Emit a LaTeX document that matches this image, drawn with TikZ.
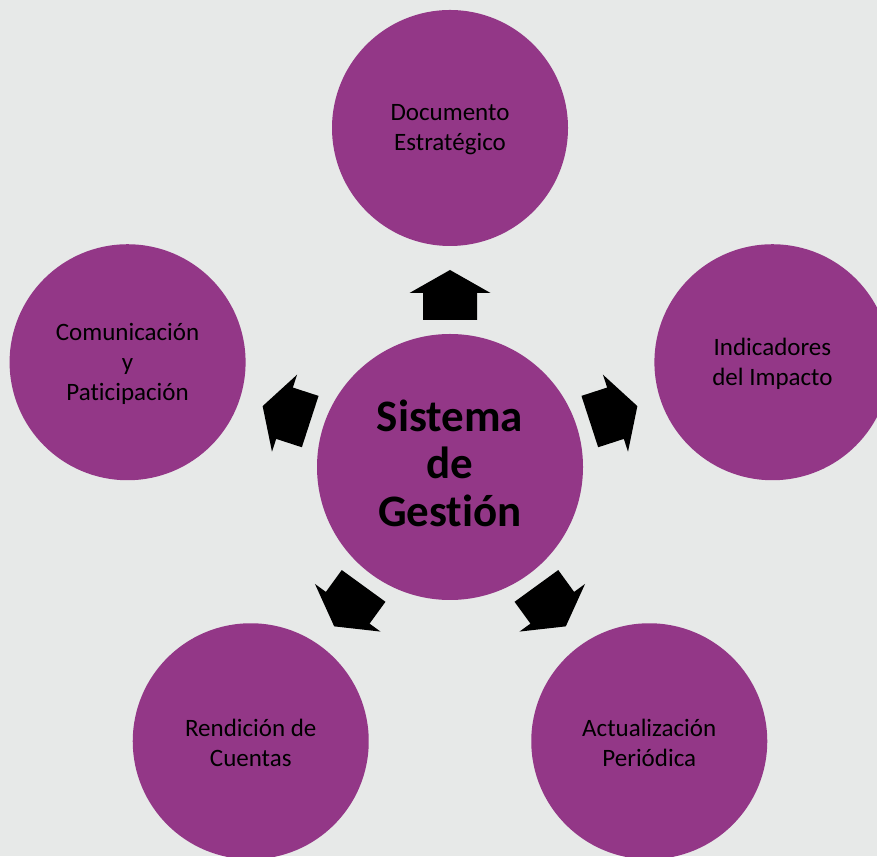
\documentclass[tikz,border=0pt]{standalone}
\usepackage{fontspec}
\setmainfont{Carlito}[Ligatures=NoCommon]
\definecolor{bg}{HTML}{E7E9E8}
\definecolor{plum}{HTML}{933787}
\begin{document}
\begin{tikzpicture}[x=1pt,y=1pt,
  circ/.style={circle,fill=plum,minimum size=236pt,inner sep=0pt},
  circtext/.style={align=center,text=black,inner sep=0pt,font=\fontsize{25}{30}\selectfont},
  hub/.style={circle,fill=plum,minimum size=266pt,inner sep=0pt},
  hubtext/.style={align=center,text=black,inner sep=0pt,font=\fontsize{45}{47.5}\selectfont\bfseries},
  blockarrow/.style={fill=black}]
\useasboundingbox (0,0) rectangle (877,856);
\clip (0,0) rectangle (877,856);
\fill[bg] (0,0) rectangle (877,856);
\coordinate (c) at (450,389);
\node[hub] (hub) at (c) {};
\node[hubtext] (hubt) at ([yshift=4]c) {Sistema\\de\\Gestión};
\node[circ] (doc) at ([shift={(90:339)}]c) {};
\node[circ] (ind) at ([shift={(18:339)}]c) {};
\node[circ] (act) at ([shift={(-54:339)}]c) {};
\node[circ] (ren) at ([shift={(234:339)}]c) {};
\node[circ] (com) at ([shift={(162:339)}]c) {};
\node[circtext] (doct) at ([yshift=-2]doc.center) {Documento\\Estratégico};
\node[circtext] (indt) at ([yshift=-2]ind.center) {Indicadores\\del Impacto};
\node[circtext] (actt) at ([yshift=-2]act.center) {Actualización\\Periódica};
\node[circtext] (rent) at ([yshift=-2]ren.center) {Rendición de\\Cuentas};
\node[circtext] (comt) at ([yshift=-2]com.center) {Comunicación\\y\\Paticipación};
\foreach \a in {90,18,-54,234,162}{
  \begin{scope}[shift={(450,389)},rotate=\a]
    \fill[blockarrow] (197,0) -- (174,40.5) -- (174,27) -- (147,27)
      -- (147,-27) -- (174,-27) -- (174,-40.5) -- cycle;
  \end{scope}
}
\end{tikzpicture}
\end{document}
